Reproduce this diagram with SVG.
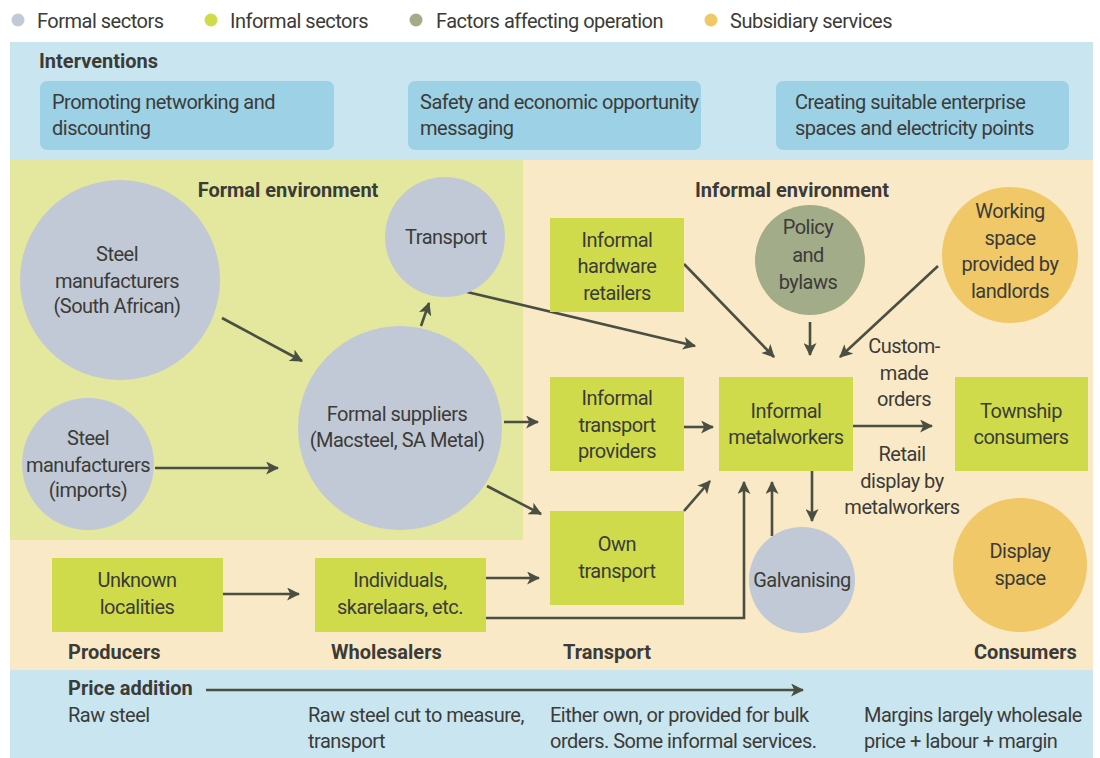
<svg xmlns="http://www.w3.org/2000/svg" width="1100" height="758" viewBox="0 0 1100 758">
<defs>
<style>
text{font-family:Roboto,"Liberation Sans",sans-serif;font-size:20px;fill:#3b3b38;letter-spacing:-0.5px}
.b{font-weight:bold;letter-spacing:0}
.c{text-anchor:middle}
.fc{fill:#c2c9d6}
.ic{fill:#cfdb4b}
.fa{fill:#a3ac88}
.ss{fill:#f0c867}
.iv{fill:#9cd1e6}
.ar{stroke:#4a4f42;stroke-width:2.6;fill:none;marker-end:url(#ah)}
</style>
<marker id="ah" viewBox="0 0 12 12" refX="11" refY="6" markerWidth="13" markerHeight="13" markerUnits="userSpaceOnUse" orient="auto">
<path d="M0,0 L12,6 L0,12 L3,6 z" fill="#4a4f42"/>
</marker>
</defs>
<rect width="1100" height="758" fill="#ffffff"/>
<!-- legend -->
<g id="legend">
<circle class="fc" cx="18" cy="20" r="6.5"/><text x="37" y="28">Formal sectors</text>
<circle class="ic" cx="211" cy="20" r="6.5"/><text x="230" y="28">Informal sectors</text>
<circle class="fa" cx="416" cy="20" r="6.5"/><text x="436" y="28">Factors affecting operation</text>
<circle class="ss" cx="711" cy="20" r="6.5"/><text x="730" y="28">Subsidiary services</text>
</g>
<!-- backgrounds -->
<rect x="10" y="42" width="1083" height="118" fill="#c9e5f0"/>
<rect x="10" y="160" width="1083" height="510" fill="#fae9c7"/>
<rect x="10" y="160" width="513" height="380" fill="#e3e89e"/>
<rect x="10" y="670" width="1083" height="88" fill="#c9e5f0"/>
<text class="b" x="39" y="68">Interventions</text>
<text class="b c" x="288" y="197">Formal environment</text>
<text class="b c" x="792" y="197">Informal environment</text>
<g id="int1"><rect class="iv" x="40" y="81" width="294" height="69" rx="7"/><text x="52" y="109">Promoting networking and</text><text x="52" y="135">discounting</text></g>
<g id="int2"><rect class="iv" x="408" y="81" width="293" height="69" rx="7"/><text x="420" y="109">Safety and economic opportunity</text><text x="420" y="135">messaging</text></g>
<g id="int3"><rect class="iv" x="776" y="81" width="293" height="69" rx="7"/><text x="795" y="109">Creating suitable enterprise</text><text x="795" y="135">spaces and electricity points</text></g>
<!-- connectors -->
<g id="connectors">
<line class="ar" x1="222" y1="318" x2="302" y2="361"/>
<line class="ar" x1="155" y1="468" x2="278" y2="468"/>
<line class="ar" x1="421" y1="326" x2="429" y2="303"/>
<line class="ar" x1="467" y1="292" x2="695" y2="346"/>
<line class="ar" x1="504" y1="422" x2="538" y2="422"/>
<line class="ar" x1="487" y1="486" x2="541" y2="514"/>
<line class="ar" x1="684" y1="264" x2="774" y2="357"/>
<line class="ar" x1="810" y1="322" x2="810" y2="355"/>
<line class="ar" x1="938" y1="266" x2="840" y2="357"/>
<line class="ar" x1="684" y1="427" x2="713" y2="427"/>
<line class="ar" x1="853" y1="426" x2="932" y2="426"/>
<line class="ar" x1="812" y1="471" x2="812" y2="521"/>
<line class="ar" x1="772" y1="536" x2="772" y2="482"/>
<line class="ar" x1="684" y1="511" x2="710" y2="481"/>
<line class="ar" x1="486" y1="578" x2="539" y2="578"/>
<polyline class="ar" points="486,618 744,618 744,482"/>
<line class="ar" x1="223" y1="594" x2="299" y2="594"/>
<line class="ar" x1="206" y1="690" x2="803" y2="690"/>
</g>
<!-- formal nodes -->
<g id="steel-sa"><circle class="fc" cx="120" cy="280" r="100"/><text class="c" x="117" y="261">Steel</text><text class="c" x="117" y="288">manufacturers</text><text class="c" x="117" y="313">(South African)</text></g>
<g id="steel-imp"><circle class="fc" cx="88" cy="464" r="66"/><text class="c" x="88" y="445">Steel</text><text class="c" x="88" y="472">manufacturers</text><text class="c" x="88" y="497">(imports)</text></g>
<g id="transport-formal"><circle class="fc" cx="445" cy="237" r="60"/><text class="c" x="446" y="244">Transport</text></g>
<g id="formal-suppliers"><circle class="fc" cx="400" cy="428" r="102"/><text class="c" x="397" y="421">Formal suppliers</text><text class="c" x="397" y="447">(Macsteel, SA Metal)</text></g>
<!-- informal nodes -->
<g id="hardware"><rect class="ic" x="550" y="218" width="134" height="94"/><text class="c" x="617" y="247">Informal</text><text class="c" x="617" y="273">hardware</text><text class="c" x="617" y="300">retailers</text></g>
<g id="inf-transport"><rect class="ic" x="550" y="377" width="134" height="94"/><text class="c" x="617" y="405">Informal</text><text class="c" x="617" y="432">transport</text><text class="c" x="617" y="458">providers</text></g>
<g id="own-transport"><rect class="ic" x="550" y="511" width="134" height="94"/><text class="c" x="617" y="551">Own</text><text class="c" x="617" y="578">transport</text></g>
<g id="metalworkers"><rect class="ic" x="719" y="377" width="134" height="94"/><text class="c" x="786" y="418">Informal</text><text class="c" x="786" y="444">metalworkers</text></g>
<g id="township"><rect class="ic" x="955" y="377" width="133" height="94"/><text class="c" x="1021" y="418">Township</text><text class="c" x="1021" y="444">consumers</text></g>
<g id="unknown"><rect class="ic" x="52" y="558" width="171" height="74"/><text class="c" x="137" y="587">Unknown</text><text class="c" x="137" y="614">localities</text></g>
<g id="individuals"><rect class="ic" x="315" y="558" width="171" height="74"/><text class="c" x="400" y="587">Individuals,</text><text class="c" x="400" y="614">skarelaars, etc.</text></g>
<g id="policy"><circle class="fa" cx="810" cy="260" r="55"/><text class="c" x="808" y="234">Policy</text><text class="c" x="808" y="262">and</text><text class="c" x="808" y="289">bylaws</text></g>
<g id="working-space"><circle class="ss" cx="1010" cy="255" r="68"/><text class="c" x="1010" y="218">Working</text><text class="c" x="1010" y="245">space</text><text class="c" x="1010" y="271">provided by</text><text class="c" x="1010" y="298">landlords</text></g>
<g id="galvanising"><circle class="fc" cx="802" cy="580" r="53"/><text class="c" x="802" y="587">Galvanising</text></g>
<g id="display-space"><circle class="ss" cx="1020" cy="565" r="67"/><text class="c" x="1020" y="558">Display</text><text class="c" x="1020" y="585">space</text></g>
<!-- labels -->
<g id="labels">
<text class="c" x="904" y="353">Custom-</text><text class="c" x="904" y="380">made</text><text class="c" x="904" y="406">orders</text>
<text class="c" x="902" y="461">Retail</text><text class="c" x="902" y="488">display by</text><text class="c" x="902" y="514">metalworkers</text>
<text class="b" x="68" y="659">Producers</text>
<text class="b" x="331" y="659">Wholesalers</text>
<text class="b" x="563" y="659">Transport</text>
<text class="b" x="974" y="659">Consumers</text>
<text class="b" x="68" y="695">Price addition</text>
<text x="68" y="722">Raw steel</text>
<text x="308" y="722">Raw steel cut to measure,</text><text x="308" y="748">transport</text>
<text x="550" y="722">Either own, or provided for bulk</text><text x="550" y="748">orders. Some informal services.</text>
<text x="864" y="722">Margins largely wholesale</text><text x="864" y="748">price + labour + margin</text>
</g>
</svg>
